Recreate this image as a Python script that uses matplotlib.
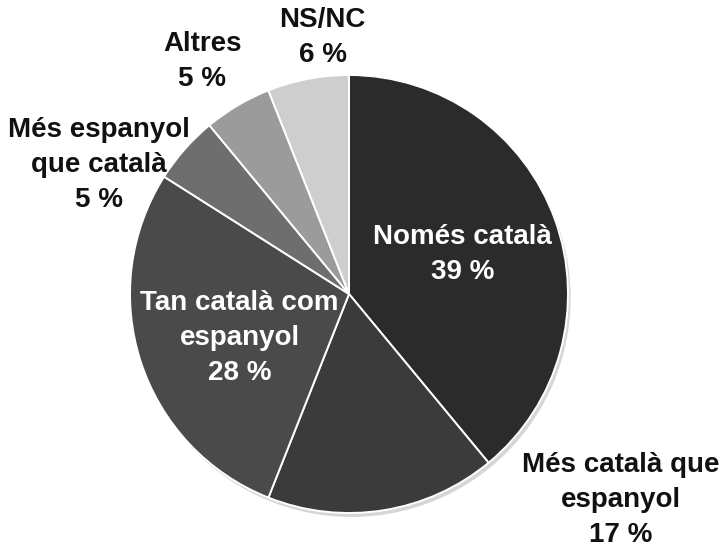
import matplotlib
matplotlib.use("Agg")
import matplotlib.pyplot as plt

categories = [
    "Només català",
    "Més català que\nespanyol",
    "Tan català com\nespanyol",
    "Més espanyol\nque català",
    "Altres",
    "NS/NC",
]
values = [39, 17, 28, 5, 5, 6]
colors = ["#2b2b2b", "#3b3b3b", "#4a4a4a", "#6e6e6e", "#9b9b9b", "#cecece"]

# label centres (in pie radius units) and text colour
label_pos = [(0.52, 0.18), (1.24, -0.94), (-0.50, -0.20),
             (-1.14, 0.59), (-0.67, 1.06), (-0.12, 1.17)]
label_color = ["white", "#111111", "white", "#111111", "#111111", "#111111"]

plt.rcParams["font.family"] = ["Liberation Sans Narrow", "Liberation Sans", "DejaVu Sans"]

fig = plt.figure(figsize=(7.22, 5.53), dpi=100)
ax = fig.add_axes([0, 0, 1, 1])

# soft shadow behind the pie
ax.pie([1], radius=1.0, center=(0.012, -0.018), colors=["#d6d6d6"],
       wedgeprops=dict(linewidth=0))
ax.pie(values, startangle=90, counterclock=False, colors=colors,
       wedgeprops=dict(edgecolor="white", linewidth=1.4))

for name, v, (x, y), c in zip(categories, values, label_pos, label_color):
    ax.text(x, y, f"{name}\n{v} %", ha="center", va="center", color=c,
            fontsize=20, fontweight="bold", linespacing=1.45)

ax.set_xlim(-349 / 219, (722 - 349) / 219)
ax.set_ylim((294 - 553) / 219, 294 / 219)
ax.set_aspect("auto")
ax.axis("off")

fig.savefig("out.png", dpi=100)
